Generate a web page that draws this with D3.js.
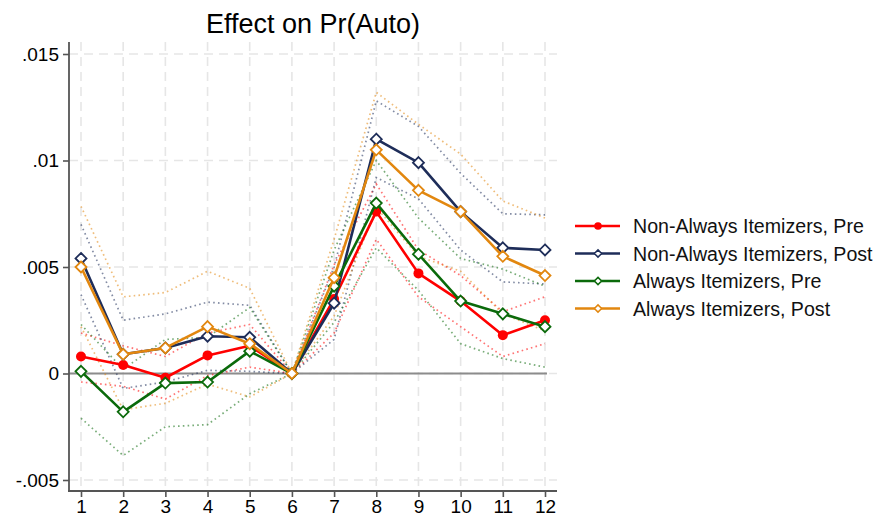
<!DOCTYPE html>
<html>
<head>
<meta charset="utf-8">
<script src="https://cdn.jsdelivr.net/npm/d3@7"></script>
<style>
  html, body { margin: 0; padding: 0; background: #fff; }
  svg { display: block; font-family: "Liberation Sans", Arial, Helvetica, sans-serif; }
</style>
</head>
<body>
<svg id="chart" width="880" height="524"></svg>
<script>
// ---- data ----
const periods = [1, 2, 3, 4, 5, 6, 7, 8, 9, 10, 11, 12];
const yTicks = [-0.005, 0, 0.005, 0.01, 0.015];
const yTickLabels = ["-.005", "0", ".005", ".01", ".015"];
const seriesNames = ["Non-Always Itemizers, Pre", "Non-Always Itemizers, Post", "Always Itemizers, Pre", "Always Itemizers, Post"];

const naPre   = [0.0008, 0.0004, -0.0002, 0.00085, 0.0013, 0, 0.0035, 0.0076, 0.0047, 0.0034, 0.0018, 0.0025];
const naPreLo = [-0.0004, -0.0006, -0.0012, -0.0001, 0.0003, 0, 0.0019, 0.0063, 0.0036, 0.0022, 0.0008, 0.0014];
const naPreHi = [0.0019, 0.0013, 0.0008, 0.0019, 0.0023, 0, 0.0051, 0.0089, 0.0058, 0.0046, 0.0029, 0.0036];

const naPost   = [0.0054, 0.0009, 0.0012, 0.00175, 0.0017, 0, 0.0033, 0.0110, 0.0099, 0.0076, 0.0059, 0.0058];
const naPostLo = [0.0037, -0.0007, -0.0004, 0.00015, 0.0001, 0, 0.0016, 0.0092, 0.0082, 0.0058, 0.0043, 0.0042];
const naPostHi = [0.0070, 0.0025, 0.0028, 0.00335, 0.0032, 0, 0.0050, 0.0128, 0.0116, 0.0094, 0.0075, 0.00745];

const aPre   = [0.0001, -0.0018, -0.00045, -0.0004, 0.00105, 0, 0.0041, 0.0080, 0.0056, 0.0034, 0.0028, 0.0022];
const aPreLo = [-0.0021, -0.00385, -0.0025, -0.0024, -0.00095, 0, 0.0024, 0.0059, 0.0039, 0.0014, 0.0007, 0.0003];
const aPreHi = [0.0023, 0.0002, 0.0016, 0.0017, 0.0031, 0, 0.0058, 0.0100, 0.0073, 0.0054, 0.0049, 0.0041];

const aPost   = [0.0050, 0.0009, 0.0012, 0.0022, 0.0014, 0, 0.0045, 0.0105, 0.0086, 0.0076, 0.0055, 0.0046];
const aPostLo = [0.0022, -0.0017, -0.0014, -0.0005, -0.0011, 0, 0.0027, 0.0078, 0.0055, 0.0048, 0.0028, 0.0020];
const aPostHi = [0.00785, 0.0036, 0.0038, 0.0048, 0.0040, 0, 0.0063, 0.0132, 0.0117, 0.0103, 0.0081, 0.0073];

const colors = ["#ff0000", "#1e2d59", "#0b6a0b", "#e2870f"];
const series = [
  { name: seriesNames[0], est: naPre,  lo: naPreLo,  hi: naPreHi,  color: colors[0], marker: "circle" },
  { name: seriesNames[1], est: naPost, lo: naPostLo, hi: naPostHi, color: colors[1], marker: "diamond" },
  { name: seriesNames[2], est: aPre,   lo: aPreLo,   hi: aPreHi,   color: colors[2], marker: "diamond" },
  { name: seriesNames[3], est: aPost,  lo: aPostLo,  hi: aPostHi,  color: colors[3], marker: "diamond" }
];

// ---- layout ----
const svg = d3.select("#chart");
const axisX = 69, axisBottom = 491, plotTop = 42, plotRight = 557;
const x = d3.scaleLinear().domain([1, 12]).range([81, 545]);
const y = d3.scaleLinear().domain([-0.005, 0.015]).range([480, 54]);

// title
svg.append("text").attr("x", 313).attr("y", 33).attr("text-anchor", "middle")
  .attr("font-size", 27).attr("fill", "#000").text("Effect on Pr(Auto)");

// gridlines
const grid = svg.append("g");
grid.selectAll(".hg").data(yTicks).enter().append("line")
  .attr("x1", axisX).attr("x2", plotRight)
  .attr("y1", d => y(d)).attr("y2", d => y(d))
  .attr("stroke", "#e6e6e6").attr("stroke-width", 1.6).attr("stroke-dasharray", "9,6");
grid.selectAll(".vg").data(periods).enter().append("line")
  .attr("x1", d => x(d)).attr("x2", d => x(d))
  .attr("y1", plotTop).attr("y2", axisBottom)
  .attr("stroke", "#e6e6e6").attr("stroke-width", 1.6).attr("stroke-dasharray", "9,6");

// zero line
svg.append("line").attr("x1", axisX).attr("x2", x(12) + 2)
  .attr("y1", y(0)).attr("y2", y(0)).attr("stroke", "#8c8c8c").attr("stroke-width", 1.8);

// axes
const yAxis = d3.axisLeft(y).tickValues(yTicks).tickSize(6).tickPadding(4)
  .tickFormat((d, i) => yTickLabels[i]);
const gy = svg.append("g").attr("transform", `translate(${axisX},0)`).call(yAxis);
gy.select(".domain").remove();
gy.selectAll(".tick line").attr("stroke", "#555").attr("stroke-width", 1.6);
gy.selectAll(".tick text").attr("font-size", 19).attr("fill", "#000")
  .attr("font-family", "Liberation Sans, Arial, sans-serif");
svg.append("line").attr("x1", axisX).attr("x2", axisX).attr("y1", plotTop).attr("y2", axisBottom)
  .attr("stroke", "#555").attr("stroke-width", 1.8);

const xAxis = d3.axisBottom(x).tickValues(periods).tickSize(6).tickPadding(3).tickFormat(d3.format("d"));
const gx = svg.append("g").attr("transform", `translate(0,${axisBottom})`).call(xAxis);
gx.select(".domain").remove();
gx.selectAll(".tick line").attr("stroke", "#555").attr("stroke-width", 1.6);
gx.selectAll(".tick text").attr("font-size", 19).attr("fill", "#000")
  .attr("font-family", "Liberation Sans, Arial, sans-serif");
svg.append("line").attr("x1", axisX - 1).attr("x2", plotRight).attr("y1", axisBottom).attr("y2", axisBottom)
  .attr("stroke", "#555").attr("stroke-width", 1.8);

// confidence bands (dotted)
const line = d3.line().x((d, i) => x(periods[i])).y(d => y(d));
const bands = svg.append("g");
series.forEach(s => {
  [s.lo, s.hi].forEach(arr => {
    bands.append("path").attr("d", line(arr)).attr("fill", "none")
      .attr("stroke", s.color).attr("stroke-opacity", 0.55)
      .attr("stroke-width", 1.7).attr("stroke-dasharray", "1.6,3.2");
  });
});

// main lines + markers
const diamond = (cx, cy, r) => `M${cx},${cy - r}L${cx + r},${cy}L${cx},${cy + r}L${cx - r},${cy}Z`;
series.forEach(s => {
  const g = svg.append("g");
  g.append("path").attr("d", line(s.est)).attr("fill", "none")
    .attr("stroke", s.color).attr("stroke-width", 2.6).attr("stroke-linejoin", "round");
  if (s.marker === "circle") {
    g.selectAll("circle").data(s.est).enter().append("circle")
      .attr("cx", (d, i) => x(periods[i])).attr("cy", d => y(d)).attr("r", 5)
      .attr("fill", s.color);
  } else {
    g.selectAll("path.m").data(s.est).enter().append("path").attr("class", "m")
      .attr("d", (d, i) => diamond(x(periods[i]), y(d), 5.5))
      .attr("fill", "#fff").attr("stroke", s.color).attr("stroke-width", 1.8);
  }
});

// legend
const legend = svg.append("g");
const rowY = [226, 253.5, 281, 308.5];
series.forEach((s, i) => {
  const gy2 = rowY[i];
  legend.append("line").attr("x1", 575).attr("x2", 620).attr("y1", gy2).attr("y2", gy2)
    .attr("stroke", s.color).attr("stroke-width", 2.6);
  if (s.marker === "circle") {
    legend.append("circle").attr("cx", 598).attr("cy", gy2).attr("r", 3.8).attr("fill", s.color);
  } else {
    legend.append("path").attr("d", diamond(598, gy2, 3.6)).attr("fill", "#fff")
      .attr("stroke", s.color).attr("stroke-width", 1.5);
  }
  legend.append("text").attr("x", 633).attr("y", gy2 + 7).attr("font-size", 19.6)
    .attr("fill", "#111").text(s.name);
});
</script>
</body>
</html>
